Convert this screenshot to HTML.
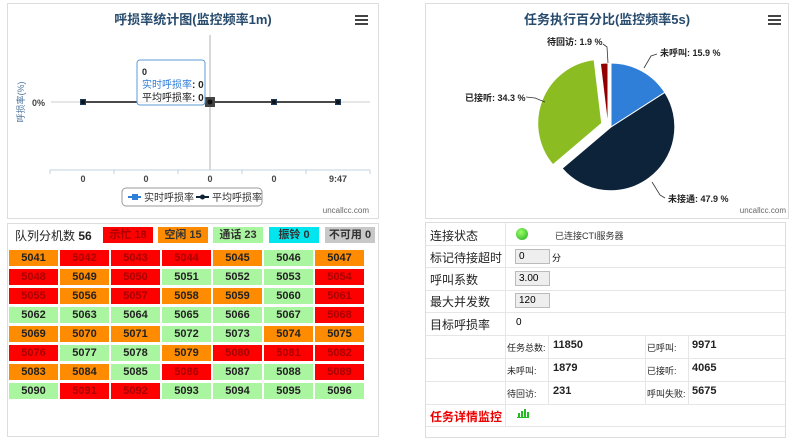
<!DOCTYPE html>
<html><head><meta charset="utf-8"><style>
body{margin:0;width:800px;height:441px;background:#fff;font-family:"Liberation Sans","Noto Sans CJK SC",sans-serif;position:relative;overflow:hidden}
.a{position:absolute}
.panel{position:absolute;border:1px solid #ddd;box-sizing:border-box}
.cell{position:absolute;width:49px;height:16px;font-size:11px;font-weight:bold;text-align:center;line-height:16px;color:#222}
.r{background:#f00;color:#a00}.o{background:#ff8c00}.g{background:#aaf5a0}
.badge{position:absolute;top:227px;height:16px;width:50px;font-size:11px;font-weight:bold;text-align:center;line-height:16px;color:#333}
.lbl{position:absolute;left:430px;font-size:12px;color:#222}
.hl{position:absolute;height:1px;background:#e6e6e6}
.vl{position:absolute;width:1px;background:#e6e6e6}
.inp{position:absolute;left:515px;width:35px;height:15px;background:#eee;border:1px solid #bbb;box-sizing:border-box;font-size:10px;line-height:13px;padding-left:3px}
.s{position:absolute;font-size:9px;color:#222}
.v{position:absolute;font-size:11px;font-weight:bold;color:#222}
</style></head><body>
<div class="panel" style="left:7px;top:3px;width:372px;height:216px"></div>
<div class="panel" style="left:425px;top:3px;width:364px;height:216px"></div>
<svg class="a" style="left:0;top:0" width="800" height="220" font-family="Liberation Sans,Noto Sans CJK SC,sans-serif">
<text x="193" y="24" font-size="13" font-weight="bold" fill="#274b6d" text-anchor="middle">呼损率统计图(监控频率1m)</text>
<g fill="#444"><rect x="355" y="15" width="13" height="2"/><rect x="355" y="19" width="13" height="2"/><rect x="355" y="23" width="13" height="2"/>
<rect x="768" y="15" width="13" height="2"/><rect x="768" y="19" width="13" height="2"/><rect x="768" y="23" width="13" height="2"/></g>
<line x1="51" y1="102" x2="370" y2="102" stroke="#ddd" stroke-width="1.5"/>
<line x1="210" y1="35" x2="210" y2="170" stroke="#ccc" stroke-width="1.5"/>
<line x1="50" y1="170" x2="370" y2="170" stroke="#c0d0e0"/>
<g stroke="#c0d0e0"><line x1="50" y1="170" x2="50" y2="174"/><line x1="114" y1="170" x2="114" y2="174"/><line x1="178" y1="170" x2="178" y2="174"/><line x1="242" y1="170" x2="242" y2="174"/><line x1="306" y1="170" x2="306" y2="174"/><line x1="370" y1="170" x2="370" y2="174"/></g>
<text x="45" y="106" font-size="9" fill="#444" text-anchor="end" font-weight="bold">0%</text>
<text transform="translate(24,102) rotate(-90)" font-size="9" fill="#4d759e" text-anchor="middle">呼损率(%)</text>
<line x1="83" y1="102" x2="338" y2="102" stroke="#111" stroke-width="1.5"/>
<g fill="#1a3a5a"><rect x="80" y="99" width="6" height="6"/><rect x="271" y="99" width="6" height="6"/><rect x="335" y="99" width="6" height="6"/><rect x="205" y="97" width="10" height="10" fill="#444"/></g>
<g fill="#111"><circle cx="83" cy="102" r="2"/><circle cx="210" cy="102" r="2.5"/><circle cx="274" cy="102" r="2"/><circle cx="338" cy="102" r="2"/></g>
<rect x="137" y="60" width="68" height="45" rx="3" fill="#fff" fill-opacity="0.95" stroke="#5b9bd5"/>
<text x="142" y="75" font-size="9" fill="#222" font-weight="bold">0</text>
<text x="142" y="88" font-size="10" fill="#2f7ed8">实时呼损率<tspan fill="#222" font-weight="bold">: 0</tspan></text>
<text x="142" y="101" font-size="10" fill="#222">平均呼损率<tspan font-weight="bold">: 0</tspan></text>
<g font-size="9" fill="#444" text-anchor="middle" font-weight="bold"><text x="83" y="182">0</text><text x="146" y="182">0</text><text x="210" y="182">0</text><text x="274" y="182">0</text><text x="338" y="182">9:47</text></g>
<rect x="122" y="188" width="140" height="18" rx="4" fill="#fff" stroke="#999"/>
<line x1="128" y1="197" x2="141" y2="197" stroke="#2f7ed8" stroke-width="2"/><rect x="132" y="194" width="6" height="6" fill="#2f7ed8"/>
<text x="144" y="201" font-size="10" fill="#333">实时呼损率</text>
<line x1="196" y1="197" x2="209" y2="197" stroke="#0d233a" stroke-width="2"/><circle cx="202.5" cy="197" r="2.5" fill="#0d233a"/>
<text x="212" y="201" font-size="10" fill="#333">平均呼损率</text>
<text x="369" y="213" font-size="8" fill="#666" text-anchor="end">uncallcc.com</text>

<text x="607" y="24" font-size="13" font-weight="bold" fill="#274b6d" text-anchor="middle">任务执行百分比(监控频率5s)</text>
<path d="M611,127 L611,63 A64,64 0 0 1 664.8,92.4 Z" fill="#2f7ed8" stroke="#fff"/>
<path d="M611,127 L664.8,92.4 A64,64 0 0 1 562.2,168.4 Z" fill="#0d233a" stroke="#fff"/>
<path d="M601.7,123.3 L552.9,164.7 A64,64 0 0 1 594.1,59.8 Z" fill="#8bbc21" stroke="#fff"/>
<path d="M608,127 L600.4,63.5 A64,64 0 0 1 608,63 Z" fill="#910000" stroke="#fff"/>
<g fill="none" stroke="#333" stroke-width="0.8">
<path d="M603,44 L607,47 L608,63"/><path d="M657,54 L651,56 L644,68"/><path d="M526,97 L535,98 L545,102"/><path d="M665,198 L660,195 L652,182"/></g>
<g font-size="9" font-weight="bold" fill="#222">
<text x="547" y="45">待回访: 1.9 %</text><text x="660" y="56">未呼叫: 15.9 %</text><text x="465" y="101">已接听: 34.3 %</text><text x="668" y="202">未接通: 47.9 %</text></g>
<text x="786" y="213" font-size="8" fill="#666" text-anchor="end">uncallcc.com</text>
</svg>

<div class="panel" style="left:7px;top:223px;width:372px;height:214px"></div>
<div class="a" style="left:15px;top:227px;font-size:12px;color:#222">队列分机数 <b>56</b></div>
<div class="badge" style="left:103px;background:#f00;color:#a00">示忙 18</div>
<div class="badge" style="left:158px;background:#ff8c00">空闲 15</div>
<div class="badge" style="left:213px;background:#aaf5a0">通话 23</div>
<div class="badge" style="left:269px;background:#00e5ee">振铃 0</div>
<div class="badge" style="left:325px;background:#c8c8c8">不可用 0</div>
<div id="grid"></div>
<script>
var c=["orrrogo","rorgggr","roroogr","ggggggr","oooggoo","rggorrr","oogrggr","grrgggg"];
var h="",n=5041;
for(var i=0;i<8;i++)for(var j=0;j<7;j++){h+='<div class="cell '+c[i][j]+'" style="left:'+(9+j*51)+'px;top:'+(250+i*19)+'px">'+(n++)+'</div>';}
document.getElementById("grid").innerHTML=h;
</script>

<div class="panel" style="left:425px;top:222px;width:361px;height:216px"></div>
<div class="vl" style="left:505px;top:222px;height:204px"></div>
<div class="hl" style="left:426px;top:245px;width:359px"></div>
<div class="hl" style="left:426px;top:267px;width:359px"></div>
<div class="hl" style="left:426px;top:290px;width:359px"></div>
<div class="hl" style="left:426px;top:312px;width:359px"></div>
<div class="hl" style="left:426px;top:335px;width:359px"></div>
<div class="hl" style="left:426px;top:358px;width:359px"></div>
<div class="hl" style="left:426px;top:381px;width:359px"></div>
<div class="hl" style="left:426px;top:404px;width:359px"></div>
<div class="hl" style="left:426px;top:426px;width:359px"></div>
<div class="vl" style="left:548px;top:335px;height:69px"></div>
<div class="vl" style="left:645px;top:335px;height:69px"></div>
<div class="vl" style="left:688px;top:335px;height:69px"></div>
<div class="lbl" style="top:227px">连接状态</div>
<div class="a" style="left:516px;top:228px;width:12px;height:12px;border-radius:50%;background:radial-gradient(circle at 40% 35%,#9f6,#2a2)"></div>
<div class="a" style="left:555px;top:229px;font-size:9px;color:#333">已连接CTI服务器</div>
<div class="lbl" style="top:249px">标记待接超时</div>
<div class="inp" style="top:249px">0</div><div class="a" style="left:552px;top:251px;font-size:9px">分</div>
<div class="lbl" style="top:271px">呼叫系数</div><div class="inp" style="top:271px">3.00</div>
<div class="lbl" style="top:293px">最大并发数</div><div class="inp" style="top:293px">120</div>
<div class="lbl" style="top:316px">目标呼损率</div><div class="a" style="left:516px;top:317px;font-size:10px">0</div>
<div class="s" style="left:507px;top:341px">任务总数:</div><div class="v" style="left:553px;top:339px">11850</div>
<div class="s" style="left:647px;top:341px">已呼叫:</div><div class="v" style="left:692px;top:339px">9971</div>
<div class="s" style="left:507px;top:364px">未呼叫:</div><div class="v" style="left:553px;top:362px">1879</div>
<div class="s" style="left:647px;top:364px">已接听:</div><div class="v" style="left:692px;top:362px">4065</div>
<div class="s" style="left:507px;top:387px">待回访:</div><div class="v" style="left:553px;top:385px">231</div>
<div class="s" style="left:647px;top:387px">呼叫失败:</div><div class="v" style="left:692px;top:385px">5675</div>
<div class="lbl" style="top:408px;color:#e00;font-weight:bold">任务详情监控</div>
<svg class="a" style="left:517px;top:408px" width="12" height="10"><g fill="#2b2"><rect x="0" y="9" width="12" height="1"/><rect x="1" y="5" width="2" height="4"/><rect x="4" y="3" width="2" height="6"/><rect x="7" y="1" width="2" height="8"/><rect x="10" y="4" width="2" height="5"/></g></svg>
</body></html>
